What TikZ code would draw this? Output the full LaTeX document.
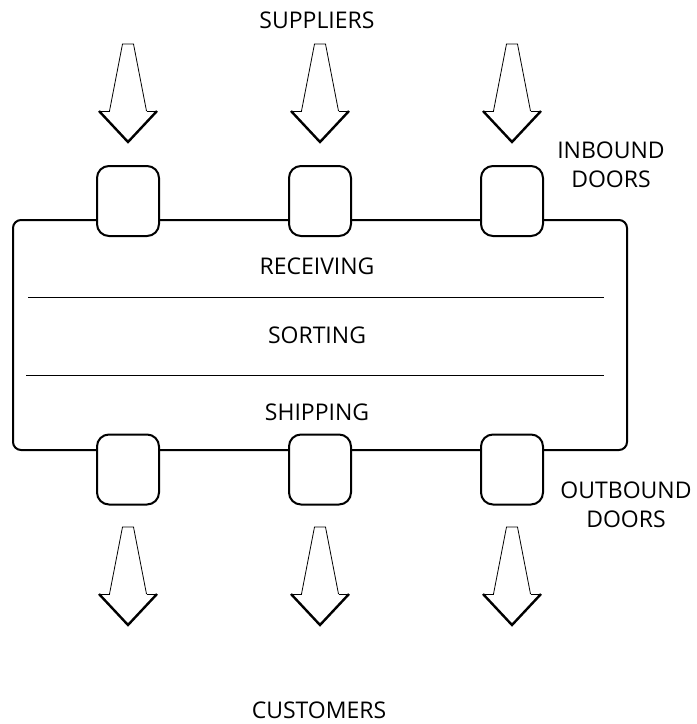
\documentclass[tikz,border=0pt]{standalone}
\usepackage{fontspec}
\setmainfont{Open Sans}
\begin{document}
\begin{tikzpicture}[x=1pt,y=-1pt,
  label text/.style={font=\fontsize{23}{29}\selectfont, inner sep=0pt, anchor=base, align=center},
  door/.style={draw, fill=white, line width=2pt, rounded corners=12pt,
    minimum width=62pt, minimum height=70pt, inner sep=0pt},
  hall/.style={draw, line width=2pt, rounded corners=8pt},
  divider/.style={line width=1pt},
  pics/flow arrow/.style={code={
    % tapered shaft
    \draw[line width=0.8pt, line join=miter]
      (-18.5,67) -- (-5.5,0) -- (5.5,0) -- (18.5,67);
    \draw[line width=0.8pt] (-18.5,67) -- (-29,67) (18.5,67) -- (29,67);
    % chevron head
    \draw[line width=2.4pt, line join=miter] (-29,67) -- (0,98) -- (29,67);
  }}]
\useasboundingbox (0,0) rectangle (697,724);

% building outline
\draw[hall] (13,220) rectangle (627,450);

% zone dividers
\draw[divider] (28,297) -- (604,297);
\draw[divider] (26,375) -- (604,375);

% zone names
\node[label text] (receiving) at (317,274) {RECEIVING};
\node[label text] (sorting) at (317,343) {SORTING};
\node[label text] (shipping) at (317,420) {SHIPPING};

% inbound doors
\node[door] (in1) at (128,201) {};
\node[door] (in2) at (320,201) {};
\node[door] (in3) at (512,201) {};

% outbound doors
\node[door] (out1) at (128,469.5) {};
\node[door] (out2) at (320,469.5) {};
\node[door] (out3) at (512,469.5) {};

% incoming flows
\pic at (128,44) {flow arrow};
\pic at (320,44) {flow arrow};
\pic at (512,44) {flow arrow};

% outgoing flows
\pic at (128,527) {flow arrow};
\pic at (320,527) {flow arrow};
\pic at (512,527) {flow arrow};

% captions
\node[label text] (suppliers) at (317,28) {SUPPLIERS};
\node[label text] (customers) at (319,718) {CUSTOMERS};
\node[label text] (inbound) at (611,187) {INBOUND\\DOORS};
\node[label text] (outbound) at (626,527) {OUTBOUND\\DOORS};
\end{tikzpicture}
\end{document}
